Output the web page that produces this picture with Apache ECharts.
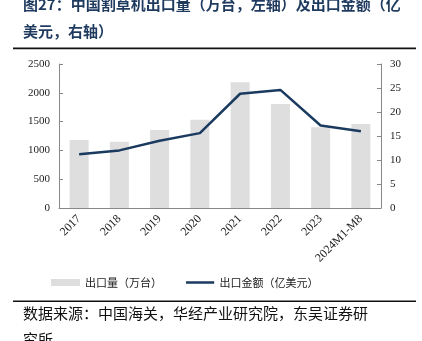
<!DOCTYPE html>
<html>
<head>
<meta charset="utf-8">
<script src="https://cdn.jsdelivr.net/npm/echarts@6/dist/echarts.min.js"></script>
<style>
html,body{margin:0;padding:0;background:#fff;}
#c{width:422px;height:341px;}
</style>
</head>
<body>
<div id="c"></div>
<script>
var categories = ['2017','2018','2019','2020','2021','2022','2023','2024M1-M8'];
var exportVolume = [1180, 1150, 1355, 1530, 2185, 1805, 1400, 1460];
var exportValue = [11.2, 12.0, 14.0, 15.6, 23.8, 24.6, 17.2, 16.0];
var leftTicks = [0, 2500, 500];
var rightTicks = [0, 30, 5];
var seriesNames = ['出口量（万台）', '出口金额（亿美元）'];
var titleText = '图27：中国割草机出口量（万台，左轴）及出口金额（亿\n美元，右轴）';
var sourceText = '数据来源：中国海关，华经产业研究院，东吴证券研\n究所';

var chart = echarts.init(document.getElementById('c'), null, {renderer:'canvas'});
var serif = '"Liberation Serif","Times New Roman",serif';
var cjk = '"Noto Sans CJK SC",sans-serif';
var lineIcon = 'path://M0,0L29,0L29,0.01L0,0.01Z M0,2.3L29,2.3L29,4.9L0,4.9Z M0,7.19L29,7.19L29,7.2L0,7.2Z';
var option = {
  animation:false,
  backgroundColor:'#fff',
  grid:{left:59, right:41, top:64, bottom:133, containLabel:false},
  legend:{
    left:46, top:272,
    itemWidth:29, itemHeight:7, itemGap:24,
    textStyle:{fontFamily:cjk, fontSize:11, color:'#222'},
    data:[{name:seriesNames[0], icon:'rect'},{name:seriesNames[1], icon:lineIcon}]
  },
  xAxis:{
    type:'category', data:categories,
    axisLine:{lineStyle:{color:'#888', width:1}},
    axisTick:{inside:true, length:4, lineStyle:{color:'#888'}},
    axisLabel:{rotate:45, fontFamily:serif, fontSize:12, color:'#222', interval:0, margin:9}
  },
  yAxis:[{
    type:'value', min:leftTicks[0], max:leftTicks[1], interval:leftTicks[2],
    axisLine:{show:true, lineStyle:{color:'#888'}},
    axisTick:{show:true, inside:true, length:4, lineStyle:{color:'#888'}},
    splitLine:{show:false},
    axisLabel:{fontFamily:serif, fontSize:11, color:'#222', margin:9, formatter:function(v){return String(v);}}
  },{
    type:'value', min:rightTicks[0], max:rightTicks[1], interval:rightTicks[2],
    axisLine:{show:true, lineStyle:{color:'#888'}},
    axisTick:{show:true, inside:true, length:4, lineStyle:{color:'#888'}},
    splitLine:{show:false},
    axisLabel:{fontFamily:serif, fontSize:11, color:'#222', margin:9, formatter:function(v){return String(v);}}
  }],
  series:[{
    name:seriesNames[0], type:'bar', data:exportVolume, barWidth:19,
    itemStyle:{color:'#dedede'}
  },{
    name:seriesNames[1], type:'line', yAxisIndex:1, data:exportValue,
    symbol:'none', showSymbol:false, lineStyle:{color:'#1b3a5f', width:2.5},
    itemStyle:{color:'#1b3a5f'}
  }],
  graphic:[
    {type:'text', left:23, top:-9, style:{text:titleText, fontFamily:cjk, fontSize:15, lineHeight:27, fill:'#1f3a5f', fontWeight:'bold'}},
    {type:'rect', shape:{x:13, y:47.5, width:403, height:1.8}, style:{fill:'#111'}},
    {type:'rect', shape:{x:13, y:300.5, width:403, height:1.5}, style:{fill:'#111'}},
    {type:'text', left:23, top:300, style:{text:sourceText, fontFamily:cjk, fontSize:15, lineHeight:26, fill:'#111'}}
  ]
};
chart.setOption(option);
</script>
</body>
</html>
